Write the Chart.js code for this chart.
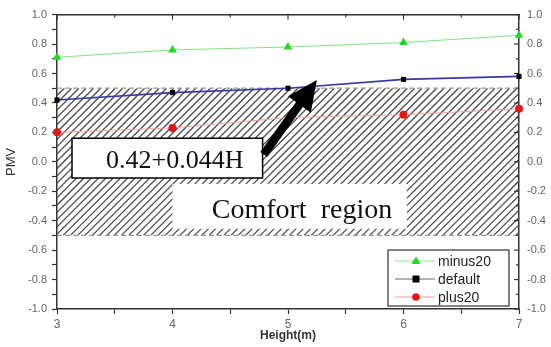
<!DOCTYPE html>
<html>
<head>
<meta charset="utf-8">
<script src="https://cdn.jsdelivr.net/npm/chart.js@4.4.1/dist/chart.umd.min.js"></script>
<style>
  html, body { margin:0; padding:0; background:#fff; }
  #wrap { width:551px; height:347px; }
</style>
</head>
<body>
<div id="wrap"><canvas id="pmv" width="551" height="347"></canvas></div>
<script>
// PMV vs height
const heights    = [3, 4, 5, 6, 7];
const minus20    = [0.71, 0.76, 0.78, 0.81, 0.86];
const defaultPMV = [0.42, 0.47, 0.50, 0.56, 0.58];
const plus20     = [0.20, 0.23, 0.30, 0.32, 0.36];
const seriesNames = ['minus20', 'default', 'plus20'];

const xTickLabels = ['3', '4', '5', '6', '7'];
const yRange  = [-1.0, 1.0];
const comfort = [-0.5, 0.5];

// annotations (data units)
const fitLabel     = '0.42+0.044H';
const comfortLabel = 'Comfort  region';
const arrowFrom = [4.79, 0.05];
const arrowTo   = [5.25, 0.555];

const TICK_FONT = { family:'"Liberation Sans", Arial, sans-serif', size:11 };
const SERIF = '"Liberation Serif", "Times New Roman", serif';

function pts(ys) { return heights.map((h, i) => ({ x:h, y:ys[i] })); }

// hatched comfort band + dashed limits
const hatchPlugin = {
  id:'hatch',
  beforeDatasetsDraw(chart) {
    const { ctx, chartArea:a, scales:{ x, y } } = chart;
    const top = y.getPixelForValue(comfort[1]);
    const bot = y.getPixelForValue(comfort[0]);
    ctx.save();
    ctx.beginPath();
    ctx.rect(a.left, top, a.right - a.left, bot - top);
    ctx.clip();
    ctx.strokeStyle = '#4a4a4a';
    ctx.lineWidth = 1.3;
    const h = bot - top;
    for (let sx = a.left - h; sx < a.right + 10; sx += 7.3) {
      ctx.beginPath();
      ctx.moveTo(sx, bot);
      ctx.lineTo(sx + h, top);
      ctx.stroke();
    }
    ctx.restore();

    ctx.save();
    ctx.strokeStyle = '#9a9a9a';
    ctx.lineWidth = 1.3;
    ctx.setLineDash([5, 3]);
    [top, bot].forEach(py => {
      ctx.beginPath();
      ctx.moveTo(a.left, py);
      ctx.lineTo(a.right, py);
      ctx.stroke();
    });
    ctx.restore();

    // white box behind "Comfort region"
    ctx.save();
    ctx.fillStyle = '#fff';
    ctx.fillRect(x.getPixelForValue(4.0), y.getPixelForValue(-0.15),
                 x.getPixelForValue(6.03) - x.getPixelForValue(4.0),
                 y.getPixelForValue(-0.455) - y.getPixelForValue(-0.15));
    ctx.restore();
  },
  afterDatasetsDraw(chart) {
    const { ctx, scales:{ x, y } } = chart;
    ctx.save();
    // fit label box
    const bx = x.getPixelForValue(3.13), by = y.getPixelForValue(0.16);
    const bw = x.getPixelForValue(4.78) - bx, bh = y.getPixelForValue(-0.11) - by;
    ctx.fillStyle = '#fff';
    ctx.fillRect(bx, by, bw, bh);
    ctx.strokeStyle = '#000';
    ctx.lineWidth = 1.5;
    ctx.strokeRect(bx, by, bw, bh);
    ctx.fillStyle = '#111';
    ctx.font = '26px ' + SERIF;
    ctx.textAlign = 'left';
    ctx.textBaseline = 'alphabetic';
    ctx.fillText(fitLabel, bx + 34, by + 30);

    // comfort label
    ctx.font = '28px ' + SERIF;
    ctx.fillText(comfortLabel, x.getPixelForValue(4.34), y.getPixelForValue(-0.385));

    // arrow
    const x0 = x.getPixelForValue(arrowFrom[0]), y0 = y.getPixelForValue(arrowFrom[1]);
    const x1 = x.getPixelForValue(arrowTo[0]),   y1 = y.getPixelForValue(arrowTo[1]);
    const ang = Math.atan2(y1 - y0, x1 - x0);
    const headLen = 30, headW = 14;
    const hx = x1 - headLen * Math.cos(ang), hy = y1 - headLen * Math.sin(ang);
    ctx.strokeStyle = '#000';
    ctx.lineWidth = 8.5;
    ctx.beginPath();
    ctx.moveTo(x0, y0);
    ctx.lineTo(hx + 2 * Math.cos(ang), hy + 2 * Math.sin(ang));
    ctx.stroke();
    ctx.fillStyle = '#000';
    ctx.beginPath();
    ctx.moveTo(x1, y1);
    ctx.lineTo(hx + headW * Math.sin(ang), hy - headW * Math.cos(ang));
    ctx.lineTo(hx - headW * Math.sin(ang), hy + headW * Math.cos(ang));
    ctx.closePath();
    ctx.fill();
    ctx.restore();
  }
};

// inward ticks on top / right frame
const innerTicks = {
  id:'innerTicks',
  afterDraw(chart) {
    const { ctx, chartArea:a, scales } = chart;
    ctx.save();
    ctx.strokeStyle = '#333';
    ctx.lineWidth = 1.2;
    scales.x2.ticks.forEach(t => {
      const px = scales.x2.getPixelForValue(t.value);
      const major = Math.abs(t.value - Math.round(t.value)) < 1e-6;
      ctx.beginPath();
      ctx.moveTo(px, a.top);
      ctx.lineTo(px, a.top + (major ? 5 : 3));
      ctx.stroke();
    });
    scales.y2.ticks.forEach(t => {
      const py = scales.y2.getPixelForValue(t.value);
      const major = Math.round(t.value * 10) % 2 === 0;
      ctx.beginPath();
      ctx.moveTo(a.right, py);
      ctx.lineTo(a.right - (major ? 5 : 3), py);
      ctx.stroke();
    });
    ctx.restore();
  }
};

// boxed legend, bottom-right
const boxLegend = {
  id:'boxLegend',
  afterDraw(chart) {
    const { ctx, chartArea:a } = chart;
    const w = 121, h = 56;
    const lx = a.right - 10 - w, ly = a.bottom - 3 - h;
    ctx.save();
    ctx.fillStyle = '#fff';
    ctx.fillRect(lx, ly, w, h);
    ctx.strokeStyle = '#333';
    ctx.lineWidth = 1.2;
    ctx.strokeRect(lx, ly, w, h);
    chart.data.datasets.forEach((ds, i) => {
      const cy = ly + 11 + i * 18;
      ctx.strokeStyle = ds.legendLine;
      ctx.lineWidth = 1;
      ctx.beginPath();
      ctx.moveTo(lx + 7, cy);
      ctx.lineTo(lx + 47, cy);
      ctx.stroke();
      ctx.fillStyle = ds.pointBackgroundColor;
      const mx = lx + 28;
      ctx.beginPath();
      if (ds.pointStyle === 'triangle') {
        ctx.moveTo(mx, cy - 4.5); ctx.lineTo(mx + 4.5, cy + 3); ctx.lineTo(mx - 4.5, cy + 3);
      } else if (ds.pointStyle === 'rect') {
        ctx.rect(mx - 3.5, cy - 3.5, 7, 7);
      } else {
        ctx.arc(mx, cy, 3.8, 0, Math.PI * 2);
      }
      ctx.fill();
      ctx.fillStyle = '#222';
      ctx.font = '14px "Liberation Sans", Arial, sans-serif';
      ctx.textBaseline = 'middle';
      ctx.fillText(ds.label, lx + 50, cy + 1);
    });
    ctx.restore();
  }
};

new Chart(document.getElementById('pmv'), {
  type:'line',
  data:{
    datasets:[
      { label:seriesNames[0], data:pts(minus20), borderColor:'#7ee67e', borderWidth:1,
        pointStyle:'triangle', pointRadius:5, pointBackgroundColor:'#1fd81f', pointBorderWidth:0,
        legendLine:'#8ee88e' },
      { label:seriesNames[1], data:pts(defaultPMV), borderColor:'#3838a8', borderWidth:1.6,
        pointStyle:'rect', pointRadius:3.6, pointBackgroundColor:'#000', pointBorderWidth:0,
        legendLine:'#666' },
      { label:seriesNames[2], data:pts(plus20), borderColor:'#f0a0a0', borderWidth:1,
        pointStyle:'circle', pointRadius:[4, 4, 0, 4, 4], pointBackgroundColor:'#e01818', pointBorderWidth:0,
        legendLine:'#f0a0a0' }
    ]
  },
  options:{
    responsive:false,
    animation:false,
    layout:{ padding:0 },
    clip:false,
    plugins:{ legend:{ display:false }, tooltip:{ enabled:false } },
    scales:{
      x:{
        type:'linear', position:'bottom', min:heights[0], max:heights[heights.length - 1],
        ticks:{ stepSize:0.5, autoSkip:false, maxRotation:0, color:'#666', padding:3,
          font:{ family:'"Liberation Sans", Arial, sans-serif', size:12 },
          callback:(v) => Number.isInteger(v) ? xTickLabels[heights.indexOf(v)] : '' },
        grid:{ drawOnChartArea:false, drawTicks:true, tickLength:5, color:'#333', tickWidth:1.2 },
        border:{ display:true, color:'#333', width:1.5 },
        title:{ display:true, text:'Height(m)', color:'#333', padding:{ top:0, bottom:4 },
          font:{ family:'"Liberation Sans", Arial, sans-serif', size:12, weight:'bold' } },
        afterFit(s) { s.height = 38; }
      },
      x2:{
        type:'linear', position:'top', min:heights[0], max:heights[heights.length - 1], display:true,
        ticks:{ stepSize:0.5, display:false },
        grid:{ drawOnChartArea:false, drawTicks:false },
        border:{ display:true, color:'#333', width:1.5 },
        afterFit(s) { s.height = 13; }
      },
      y:{
        type:'linear', position:'left', min:yRange[0], max:yRange[1],
        ticks:{ stepSize:0.1, autoSkip:false, color:'#666', font:TICK_FONT, padding:5,
          callback:(v) => Math.round(v * 10) % 2 === 0 ? v.toFixed(1) : '' },
        grid:{ drawOnChartArea:false, drawTicks:true, tickLength:5, color:'#333', tickWidth:1.2 },
        border:{ display:true, color:'#333', width:1.5 },
        title:{ display:true, text:'PMV', color:'#333', padding:{ top:4, bottom:0 },
          font:{ family:'"Liberation Sans", Arial, sans-serif', size:13 } },
        afterFit(s) { s.width = 57; }
      },
      y2:{
        type:'linear', position:'right', min:yRange[0], max:yRange[1], display:true,
        ticks:{ stepSize:0.1, autoSkip:false, color:'#666', font:TICK_FONT, padding:8,
          callback:(v) => Math.round(v * 10) % 2 === 0 ? v.toFixed(1) : '' },
        grid:{ drawOnChartArea:false, drawTicks:false },
        border:{ display:true, color:'#333', width:1.5 },
        afterFit(s) { s.width = 32; }
      }
    }
  },
  plugins:[hatchPlugin, innerTicks, boxLegend]
});
</script>
</body>
</html>
